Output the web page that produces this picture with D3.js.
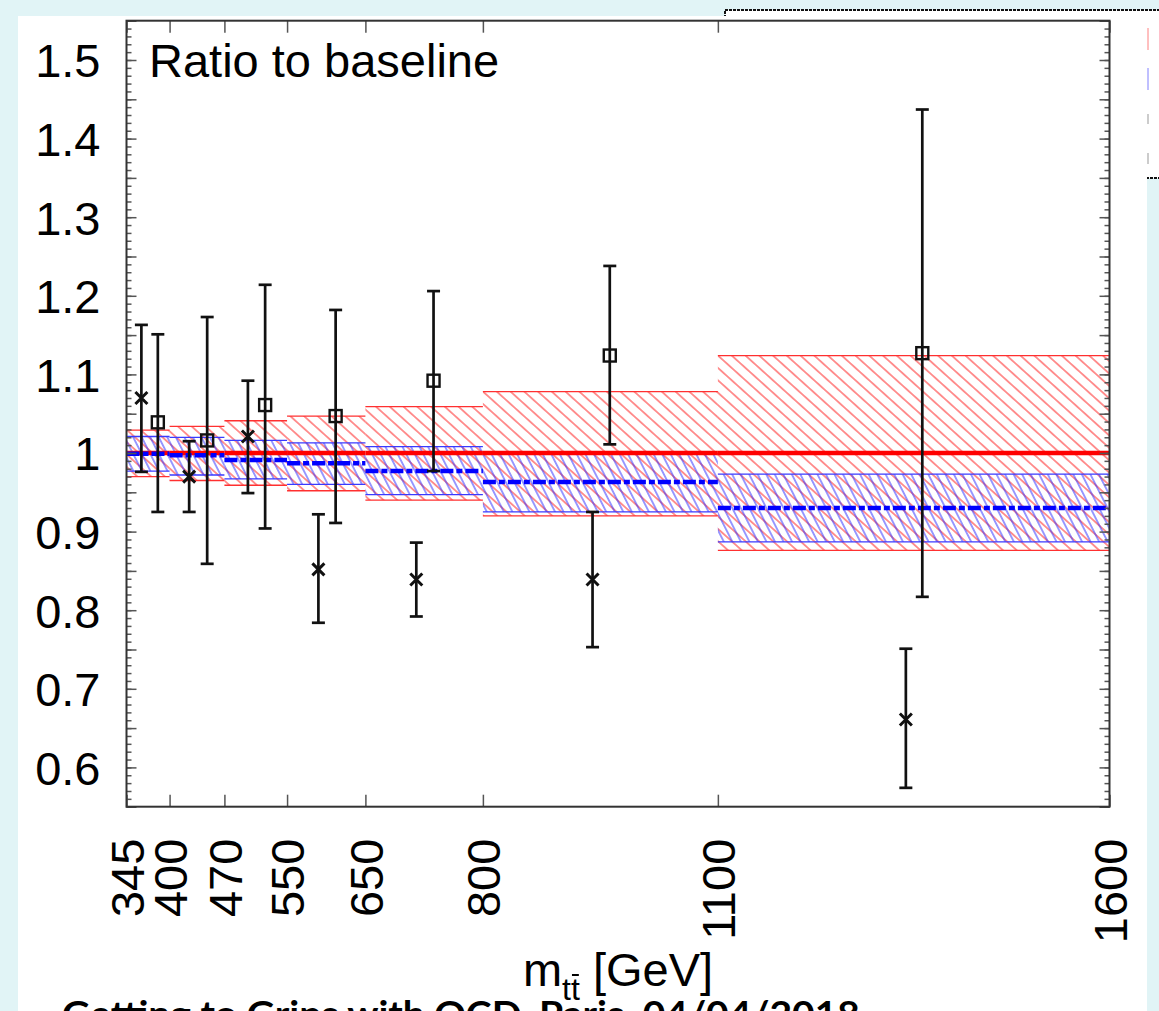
<!DOCTYPE html>
<html>
<head>
<meta charset="utf-8">
<script src="https://cdn.jsdelivr.net/npm/d3@7"></script>
<style>
  html, body { margin: 0; padding: 0; background: #e1f4f6; }
  svg { display: block; }
</style>
</head>
<body>
<div id="chart"></div>
<script>
// bins in m_tt [GeV]
const binEdges = [345, 400, 470, 550, 650, 800, 1100, 1600];

// baseline (red) central value and band
const baseCentral = [1, 1, 1, 1, 1, 1, 1];
const baseUp = [1.029, 1.034, 1.041, 1.047, 1.059, 1.078, 1.124];
const baseDown = [0.970, 0.965, 0.959, 0.952, 0.940, 0.920, 0.876];

// alternative (blue) central value and band
const altCentral = [0.999, 0.997, 0.991, 0.987, 0.977, 0.963, 0.930];
const altUp = [1.021, 1.020, 1.016, 1.013, 1.008, 0.999, 0.973];
const altDown = [0.977, 0.972, 0.967, 0.960, 0.947, 0.925, 0.887];

// data points drawn as crosses
const crossX = [364, 425, 500, 590, 715, 940, 1340];
const crossY = [1.070, 0.970, 1.021, 0.852, 0.839, 0.839, 0.661];
const crossLo = [0.976, 0.925, 0.949, 0.784, 0.792, 0.753, 0.574];
const crossHi = [1.163, 1.015, 1.092, 0.922, 0.886, 0.925, 0.751];

// data points drawn as open squares
const sqX = [385, 448, 522, 612, 737, 962, 1361];
const sqY = [1.039, 1.016, 1.061, 1.047, 1.092, 1.124, 1.127];
const sqLo = [0.925, 0.859, 0.904, 0.911, 0.977, 1.011, 0.817];
const sqHi = [1.151, 1.173, 1.214, 1.182, 1.206, 1.238, 1.437];

const yMajor = [0.6, 0.7, 0.8, 0.9, 1.0, 1.1, 1.2, 1.3, 1.4, 1.5];

const width = 1159, height = 1011;
const plot = { l: 126.5, r: 1109.5, t: 20.7, b: 806.7 };
const font = "'Liberation Sans', Arial, sans-serif";

const svg = d3.select("#chart").append("svg")
    .attr("width", width)
    .attr("height", height)
    .attr("viewBox", `0 0 ${width} ${height}`);

const defs = svg.append("defs");

// hatch patterns
function hatch(id, color, angle, gap) {
    const p = defs.append("pattern")
        .attr("id", id)
        .attr("patternUnits", "userSpaceOnUse")
        .attr("width", gap).attr("height", gap)
        .attr("patternTransform", `rotate(${angle})`);
    p.append("line")
        .attr("x1", gap / 2).attr("y1", 0)
        .attr("x2", gap / 2).attr("y2", gap)
        .attr("stroke", color).attr("stroke-width", 1);
}
hatch("hatchRed", "#ff2a2a", -48, 9.2);
hatch("hatchBlue", "#3535ff", -27, 7.6);

// slide background, legend box peeking out behind the plot
svg.append("rect").attr("width", width).attr("height", height).attr("fill", "#e1f4f6");
svg.append("rect")
    .attr("x", 725).attr("y", 10).attr("width", 460).attr("height", 168)
    .attr("fill", "#fff").attr("stroke", "#111").attr("stroke-width", 2)
    .attr("stroke-dasharray", "3,1");
svg.append("rect")
    .attr("x", 18).attr("y", 16).attr("width", 1129).attr("height", height - 16)
    .attr("fill", "#fff");

// legend sample edges (rest is cut off)
const legendG = svg.append("g").attr("transform", "translate(1148,0)");
[["#ff8080", 28, 50], ["#8080ff", 68, 90], ["#999", 114, 124], ["#999", 153, 164]].forEach(([c, a, b]) => {
    legendG.append("line").attr("x1", 0).attr("x2", 0).attr("y1", a).attr("y2", b)
        .attr("stroke", c).attr("stroke-width", 1);
});

const x = d3.scaleLinear().domain([345, 1600]).range([plot.l, plot.r]);
const y = d3.scaleLinear().domain([0.55, 1.55]).range([plot.b, plot.t]);

const bins = d3.range(binEdges.length - 1).map(i => ({
    x0: binEdges[i], x1: binEdges[i + 1],
    base: baseCentral[i], baseUp: baseUp[i], baseDown: baseDown[i],
    alt: altCentral[i], altUp: altUp[i], altDown: altDown[i]
}));

const g = svg.append("g");

// bands: hatch fill + top/bottom edges
function band(upKey, downKey, fillId, color) {
    g.append("g").selectAll("rect").data(bins).join("rect")
        .attr("x", d => x(d.x0)).attr("width", d => x(d.x1) - x(d.x0))
        .attr("y", d => y(d[upKey])).attr("height", d => y(d[downKey]) - y(d[upKey]))
        .attr("fill", `url(#${fillId})`);
    g.append("g").selectAll("line").data(bins.flatMap(d => [[d, upKey], [d, downKey]])).join("line")
        .attr("x1", ([d]) => x(d.x0)).attr("x2", ([d]) => x(d.x1))
        .attr("y1", ([d, k]) => y(d[k])).attr("y2", ([d, k]) => y(d[k]))
        .attr("stroke", color).attr("stroke-width", 1.3);
}
band("baseUp", "baseDown", "hatchRed", "#ff3030");
band("altUp", "altDown", "hatchBlue", "#3a3aff");

// central lines
g.append("g").selectAll("line").data(bins).join("line")
    .attr("x1", d => x(d.x0)).attr("x2", d => x(d.x1))
    .attr("y1", d => y(d.base)).attr("y2", d => y(d.base))
    .attr("stroke", "#ff0000").attr("stroke-width", 4.5);
g.append("g").selectAll("line").data(bins).join("line")
    .attr("x1", d => x(d.x0)).attr("x2", d => x(d.x1))
    .attr("y1", d => y(d.alt)).attr("y2", d => y(d.alt))
    .attr("stroke", "#0000ff").attr("stroke-width", 4.5)
    .attr("stroke-dasharray", "13,3,6,3");

// points with error bars
function points(xs, ys, los, his, shape) {
    const data = xs.map((v, i) => ({ x: v, y: ys[i], lo: los[i], hi: his[i] }));
    const pg = g.append("g");
    const cap = 6.5;
    data.forEach(d => {
        const px = x(d.x);
        pg.append("line").attr("x1", px).attr("x2", px).attr("y1", y(d.lo)).attr("y2", y(d.hi))
            .attr("stroke", "#111").attr("stroke-width", 2.7);
        [d.lo, d.hi].forEach(v => {
            pg.append("line").attr("x1", px - cap).attr("x2", px + cap).attr("y1", y(v)).attr("y2", y(v))
                .attr("stroke", "#111").attr("stroke-width", 2.7);
        });
        const py = y(d.y);
        const s = 6;
        if (shape === "cross") {
            pg.append("path").attr("d", `M${px - s},${py - s}L${px + s},${py + s}M${px - s},${py + s}L${px + s},${py - s}`)
                .attr("stroke", "#111").attr("stroke-width", 3).attr("fill", "none");
        } else {
            pg.append("rect").attr("x", px - s).attr("y", py - s).attr("width", 2 * s).attr("height", 2 * s)
                .attr("fill", "none").attr("stroke", "#111").attr("stroke-width", 2.4);
        }
    });
}
points(crossX, crossY, crossLo, crossHi, "cross");
points(sqX, sqY, sqLo, sqHi, "square");

// axes
const tickColor = "#555";
function styleAxis(sel) {
    sel.select(".domain").remove();
    sel.selectAll(".tick line").attr("stroke", tickColor).attr("stroke-width", 1.5);
}
const minor = d3.range(55, 156).map(v => v / 100);
const mid = d3.range(11, 32).map(v => v * 0.05);

[[d3.axisLeft, plot.l], [d3.axisRight, plot.r]].forEach(([ax, px]) => {
    svg.append("g").attr("transform", `translate(${px},0)`)
        .call(ax(y).tickValues(minor).tickSize(-5).tickFormat(""))
        .call(styleAxis);
    svg.append("g").attr("transform", `translate(${px},0)`)
        .call(ax(y).tickValues(mid).tickSize(-10).tickFormat(""))
        .call(styleAxis);
});

svg.append("g").attr("transform", `translate(${plot.l},0)`)
    .call(d3.axisLeft(y).tickValues(yMajor).tickSize(0).tickPadding(26).tickFormat(d => String(+d.toFixed(1))))
    .call(styleAxis)
    .call(s => s.selectAll("text")
        .attr("font-family", font)
        .attr("font-size", 47).attr("fill", "#000").attr("dy", "0.36em"));

svg.append("g").attr("transform", `translate(0,${plot.t})`)
    .call(d3.axisTop(x).tickValues(binEdges).tickSize(-12).tickFormat(""))
    .call(styleAxis);

svg.append("g").attr("transform", `translate(0,${plot.b})`)
    .call(d3.axisBottom(x).tickValues(binEdges).tickSize(-12).tickFormat(d3.format("d")))
    .call(styleAxis)
    .call(s => s.selectAll("text")
        .attr("font-family", font)
        .attr("font-size", 47).attr("fill", "#000")
        .attr("x", -32).attr("y", 0).attr("dy", "0.36em")
        .attr("transform", "rotate(-90)")
        .attr("text-anchor", "end"));

// frame
svg.append("rect")
    .attr("x", plot.l).attr("y", plot.t)
    .attr("width", plot.r - plot.l).attr("height", plot.b - plot.t)
    .attr("fill", "none").attr("stroke", "#333").attr("stroke-width", 2);

// labels
svg.append("text")
    .attr("x", 149).attr("y", 77)
    .attr("font-family", font)
    .attr("font-size", 47).attr("fill", "#000")
    .text("Ratio to baseline");

const title = svg.append("g").attr("font-family", font).attr("fill", "#000");
const tm = title.append("text").attr("font-size", 47).attr("y", 986).text("m");
const tsub = title.append("text").attr("font-size", 32).attr("y", 1000).text("tt");
const trest = title.append("text").attr("font-size", 47).attr("y", 986).text("\u00a0[GeV]");
const wm = tm.node().getComputedTextLength();
const ws = tsub.node().getComputedTextLength();
const wr = trest.node().getComputedTextLength();
const tx0 = (plot.l + plot.r) / 2 - (wm + ws + wr) / 2;
tm.attr("x", tx0);
tsub.attr("x", tx0 + wm);
trest.attr("x", tx0 + wm + ws);
title.append("line")
    .attr("x1", tx0 + wm + ws / 2 + 1).attr("x2", tx0 + wm + ws - 1)
    .attr("y1", 975).attr("y2", 975)
    .attr("stroke", "#000").attr("stroke-width", 2);

svg.append("text")
    .attr("x", 62).attr("y", 1027)
    .attr("font-family", "Lato, 'Open Sans', sans-serif")
    .attr("font-weight", "bold")
    .attr("font-size", 37).attr("fill", "#000")
    .attr("textLength", 798).attr("lengthAdjust", "spacingAndGlyphs")
    .text("Getting to Grips with QCD, Paris, 04/04/2018");
</script>
</body>
</html>
